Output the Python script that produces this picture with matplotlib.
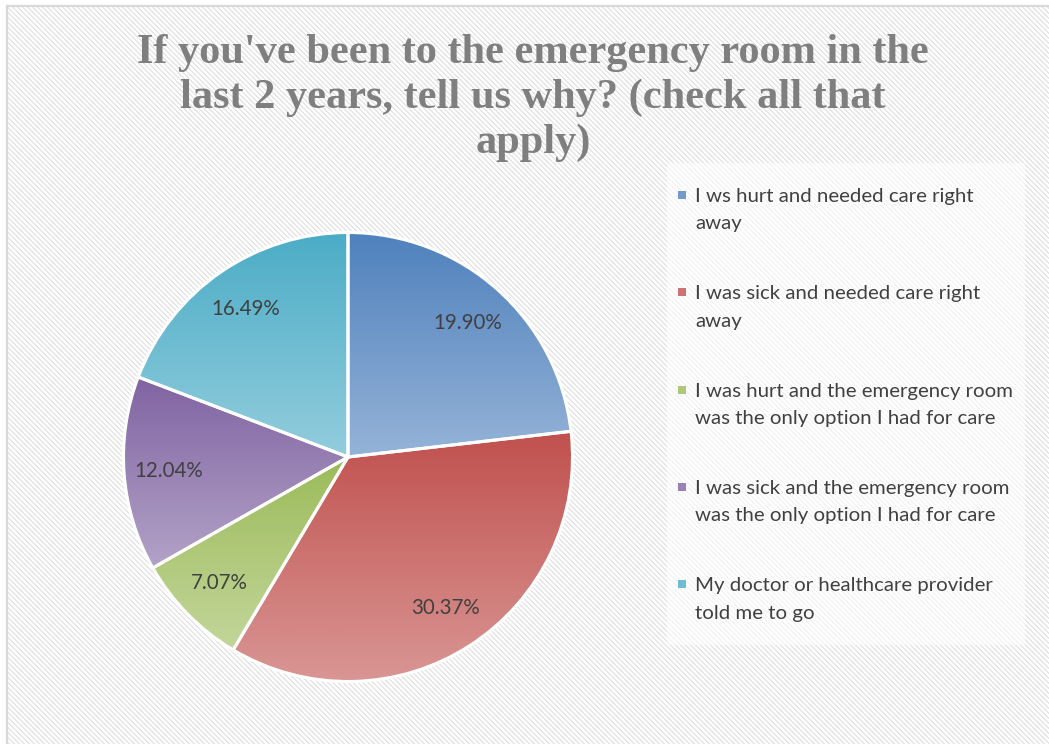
import numpy as np
import matplotlib
matplotlib.use('Agg')
import matplotlib.pyplot as plt
from matplotlib.patches import Rectangle
from matplotlib.colors import to_rgb

# Data
categories = [
    'I ws hurt and needed care right\naway',
    'I was sick and needed care right\naway',
    'I was hurt and the emergency room\nwas the only option I had for care',
    'I was sick and the emergency room\nwas the only option I had for care',
    'My doctor or healthcare provider\ntold me to go',
]
values = [19.90, 30.37, 7.07, 12.04, 16.49]
top_colors = ['#4f81bd', '#c0504d', '#9bbb59', '#8064a2', '#4bacc6']
bottom_colors = ['#95b3d7', '#d99694', '#c3d69b', '#b3a2c7', '#93cddd']

title = "If you've been to the emergency room in the\nlast 2 years, tell us why? (check all that\napply)"

W, H = 1049, 744
dpi = 100
fig = plt.figure(figsize=(W / dpi, H / dpi), dpi=dpi)
fig.patch.set_facecolor('white')

# hatched background, drawn in pixel coordinates
bg = fig.add_axes([0, 0, 1, 1], zorder=0)
yy, xx = np.mgrid[0:H, 0:W]
stripe = ((xx - yy) % 5) < 2
pattern = np.where(stripe, 0.9, 1.0)
pattern[:6, :] = 1.0
pattern[:, :7] = 1.0
bg.imshow(pattern, cmap='gray', vmin=0, vmax=1, extent=[0, W, H, 0], interpolation='nearest', aspect='auto')
bg.plot([7, W], [6, 6], color='#d9d9d9', lw=1.6)
bg.plot([7, 7], [6, H], color='#d9d9d9', lw=1.6)
bg.add_patch(Rectangle((667, 163), 358, 482, facecolor='white', alpha=0.6, edgecolor='none'))
bg.set_xlim(0, W)
bg.set_ylim(H, 0)
bg.axis('off')

# pie axes: centre (348, 457) px, radius ~224 px
cx, cy, r = 348, 457, 224.5
ax = fig.add_axes([(cx - r) / W, (H - cy - r) / H, 2 * r / W, 2 * r / H], zorder=1)
ax.patch.set_alpha(0)

labels = [f'{v:.2f}%' for v in values]
wedges, texts = ax.pie(values, labels=labels, labeldistance=0.8, startangle=90,
                       counterclock=False, radius=1,
                       wedgeprops=dict(edgecolor='white', linewidth=2.2),
                       textprops=dict(color='#404040', fontsize=14.8, family='Lato'))

# vertical gradient inside each slice
for w, c0, c1 in zip(wedges, top_colors, bottom_colors):
    path = w.get_path().transformed(w.get_patch_transform())
    ext = path.get_extents()
    t = np.linspace(0, 1, 256)[:, None]
    grad = (1 - t) * np.array(to_rgb(c0)) + t * np.array(to_rgb(c1))
    grad = grad[:, None, :].repeat(2, axis=1).reshape(256, 2, 3)
    im = ax.imshow(grad, extent=[ext.x0, ext.x1, ext.y0, ext.y1], origin='upper',
                   aspect='auto', zorder=1, interpolation='bilinear')
    im.set_clip_path(w)
    w.set_facecolor('none')
    w.set_zorder(2)

for t in texts:
    t.set_ha('center')
    t.set_va('center')
    t.set_zorder(3)

ax.set_xlim(-1, 1)
ax.set_ylim(-1, 1)
ax.set_aspect('auto')
ax.axis('off')

# legend, drawn by hand so the marker sits on the first line
mid_colors = [tuple((np.array(to_rgb(a)) + np.array(to_rgb(b))) / 2) for a, b in zip(top_colors, bottom_colors)]
for i, (lab, c) in enumerate(zip(categories, mid_colors)):
    y = 195 + i * 97.3
    bg.add_patch(Rectangle((678, y - 4), 8, 8, facecolor=c, edgecolor='none'))
    bg.text(695, y - 7, lab, ha='left', va='top', fontsize=14.7, family='Lato',
            color='#404040', linespacing=1.75)

fig.text(533 / W, 1 - 34 / H, title, ha='center', va='top', multialignment='center',
         fontsize=30.5, fontweight='bold', family='Liberation Serif', color='#7f7f7f',
         linespacing=1.23)

fig.savefig('out.png', dpi=dpi)
